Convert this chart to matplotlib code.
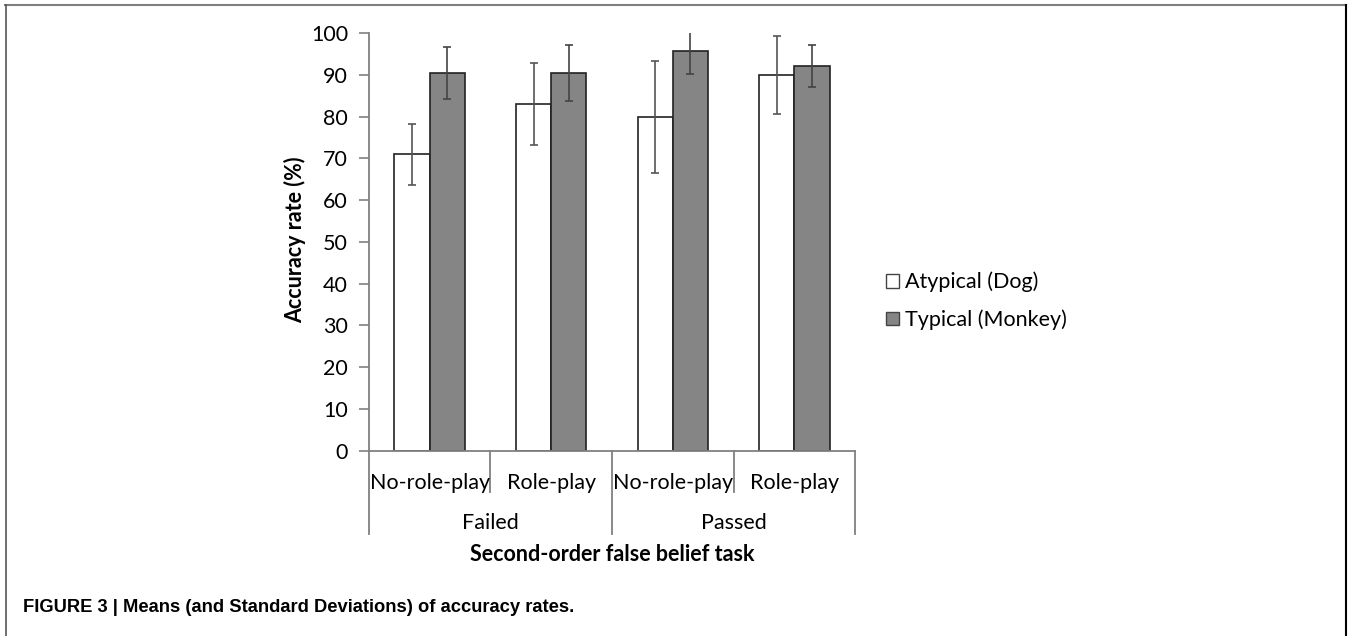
import matplotlib.pyplot as plt
from matplotlib.patches import Patch
import numpy as np

plt.rcParams['font.family'] = ['Lato', 'DejaVu Sans']

conditions = ['No-role-play', 'Role-play', 'No-role-play', 'Role-play']
groups = ['Failed', 'Passed']
series_names = ['Atypical (Dog)', 'Typical (Monkey)']
atypical_mean = [71, 83, 80, 90]
atypical_sd = [7.3, 9.9, 13.4, 9.3]
typical_mean = [90.5, 90.5, 95.7, 92.1]
typical_sd = [6.2, 6.7, 5.4, 5.1]
yticks = list(range(0, 101, 10))

fs = 15.5

fig = plt.figure(figsize=(13.48, 6.36), dpi=100)
ax = fig.add_axes([0.2737, 0.2914, 0.3606, 0.6566])

x = np.arange(len(conditions))
w = 0.29
ax.bar(x - w/2, atypical_mean, w, color='white', edgecolor='#222222', linewidth=1.2,
       label=series_names[0])
ax.bar(x + w/2, typical_mean, w, color='#858585', edgecolor='#222222', linewidth=1.2,
       label=series_names[1])
ax.errorbar(x - w/2, atypical_mean, yerr=atypical_sd, fmt='none', ecolor='#555555',
            elinewidth=1.2, capsize=3, capthick=1.2)
ax.errorbar(x + w/2, typical_mean, yerr=typical_sd, fmt='none', ecolor='#444444',
            elinewidth=1.2, capsize=3, capthick=1.2)

ax.set_xlim(-0.5, len(conditions) - 0.5)
ax.set_ylim(0, 100)
ax.set_yticks(yticks)
ax.tick_params(axis='y', direction='out', length=7, width=1.2, color='#808080',
               labelsize=fs, pad=8)
ax.set_xticks([])
for s in ['top', 'right']:
    ax.spines[s].set_visible(False)
for s in ['left', 'bottom']:
    ax.spines[s].set_color('#808080')
    ax.spines[s].set_linewidth(1.3)

# category separators and labels under the axis
trans = ax.get_xaxis_transform()
for i in range(len(conditions) + 1):
    major = i % 2 == 0
    ax.plot([i - 0.5, i - 0.5], [0, -0.2 if major else -0.1], transform=trans,
            color='#808080', lw=1.3, clip_on=False)
for i, c in enumerate(conditions):
    ax.text(i, -0.077, c, transform=trans, ha='center', va='center', fontsize=fs)
for j, g in enumerate(groups):
    ax.text(2 * j + 0.5, -0.174, g, transform=trans, ha='center', va='center', fontsize=fs)
ax.text(1.5, -0.249, 'Second-order false belief task', transform=trans, ha='center',
        va='center', fontsize=fs, fontweight='bold')
fig.text(295 / 1348, 1 - 240 / 636, 'Accuracy rate (%)', rotation=90, ha='center',
         va='center', fontsize=fs, fontweight='bold')

handles = [Patch(facecolor='white', edgecolor='#444444', label=series_names[0]),
           Patch(facecolor='#858585', edgecolor='#444444', label=series_names[1])]
fig.legend(handles=handles, loc='center left', bbox_to_anchor=(867 / 1348, 1 - 301 / 636),
           frameon=False, fontsize=fs, handlelength=0.6, handleheight=0.6,
           handletextpad=0.25, labelspacing=0.8)

# frame and caption
fig.add_artist(plt.Line2D([5 / 1348, 1346 / 1348], [1 - 5 / 636, 1 - 5 / 636],
                          transform=fig.transFigure, color='#808080', lw=1.5))
fig.add_artist(plt.Line2D([6 / 1348, 6 / 1348], [0, 1 - 5 / 636],
                          transform=fig.transFigure, color='#555555', lw=1.2))
fig.add_artist(plt.Line2D([1346 / 1348, 1346 / 1348], [0, 1 - 5 / 636],
                          transform=fig.transFigure, color='black', lw=1.5))
fig.text(23 / 1348, 1 - 607 / 636, 'FIGURE 3 | Means (and Standard Deviations) of accuracy rates.',
         family=['Liberation Sans', 'DejaVu Sans'], fontweight='bold',
         fontsize=13.2, ha='left', va='center')

fig.savefig('out.png', dpi=100)
